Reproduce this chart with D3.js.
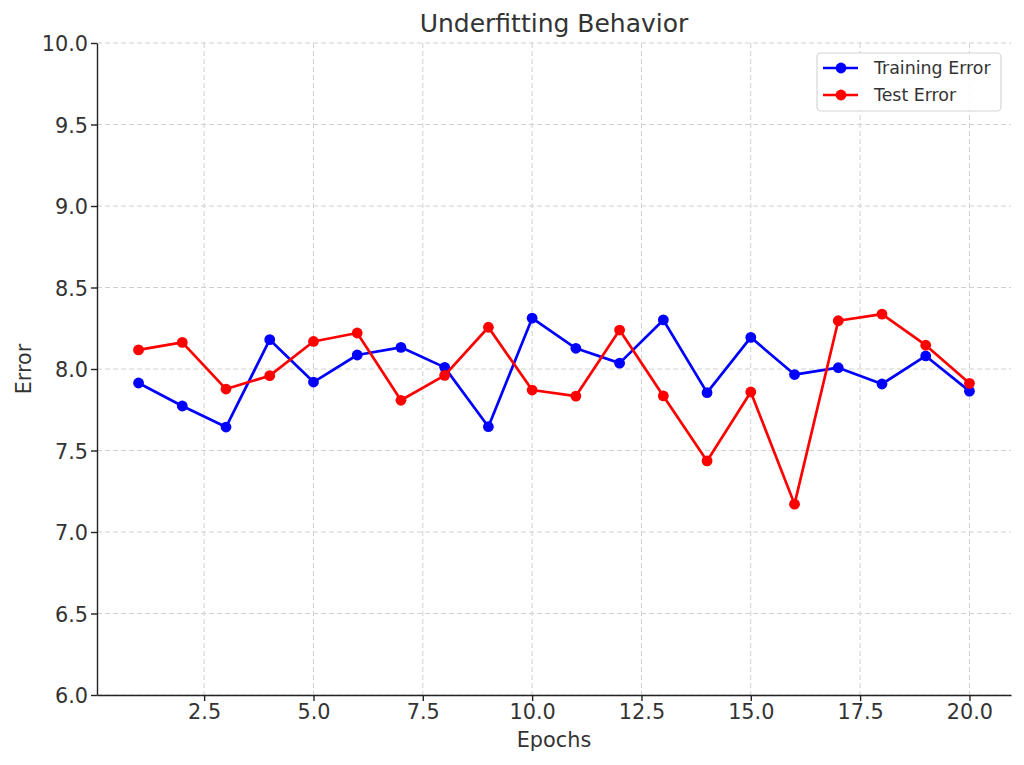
<!DOCTYPE html>
<html>
<head>
<meta charset="utf-8">
<script src="https://cdn.jsdelivr.net/npm/d3@7"></script>
<style>
    body { margin: 0; background: #fff; }
    svg text { font-family: "DejaVu Sans", sans-serif; fill: #333; }
    .grid line { stroke: #d0d0d0; stroke-dasharray: 5,3; stroke-width: 1; }
    .axis path, .axis line { stroke: #222; stroke-width: 1.4; }
</style>
</head>
<body>
<div id="chart"></div>
<script>
const epochs = [1, 2, 3, 4, 5, 6, 7, 8, 9, 10, 11, 12, 13, 14, 15, 16, 17, 18, 19, 20];
const trainingError = [7.914, 7.773, 7.644, 8.180, 7.920, 8.086, 8.133, 8.010, 7.646, 8.312,
    8.127, 8.036, 8.301, 7.855, 8.194, 7.966, 8.008, 7.908, 8.080, 7.864];
const testError = [8.117, 8.163, 7.877, 7.959, 8.169, 8.221, 7.808, 7.961, 8.256, 7.871,
    7.834, 8.239, 7.835, 7.436, 7.859, 7.171, 8.296, 8.337, 8.146, 7.912];
const xTicks = [2.5, 5.0, 7.5, 10.0, 12.5, 15.0, 17.5, 20.0];
const yTicks = [6.0, 6.5, 7.0, 7.5, 8.0, 8.5, 9.0, 9.5, 10.0];
const seriesNames = ['Training Error', 'Test Error'];
const seriesColors = ['#0000ff', '#ff0000'];

const width = 1024;
const height = 765;
const margin = { top: 43, right: 13, bottom: 70, left: 97 };

const svg = d3.select('#chart')
    .append('svg')
    .attr('width', width)
    .attr('height', height);

const xScale = d3.scaleLinear().domain([0.05, 20.95]).range([margin.left, width - margin.right]);
const yScale = d3.scaleLinear().domain([6, 10]).range([height - margin.bottom, margin.top]);

// grid
svg.append('g').attr('class', 'grid')
    .selectAll('line.v')
    .data(xTicks)
    .enter().append('line')
    .attr('x1', d => xScale(d)).attr('x2', d => xScale(d))
    .attr('y1', margin.top).attr('y2', height - margin.bottom);

svg.append('g').attr('class', 'grid')
    .selectAll('line.h')
    .data(yTicks)
    .enter().append('line')
    .attr('x1', margin.left).attr('x2', width - margin.right)
    .attr('y1', d => yScale(d)).attr('y2', d => yScale(d));

// axes
const xAxis = svg.append('g')
    .attr('class', 'axis')
    .attr('transform', `translate(0,${height - margin.bottom})`)
    .call(d3.axisBottom(xScale).tickValues(xTicks).tickFormat(d3.format('.1f')).tickSize(6).tickSizeOuter(0));
xAxis.selectAll('text').style('font-size', '20.8px');

const yAxis = svg.append('g')
    .attr('class', 'axis')
    .attr('transform', `translate(${margin.left},0)`)
    .call(d3.axisLeft(yScale).tickValues(yTicks).tickFormat(d3.format('.1f')).tickSize(6).tickSizeOuter(0));
yAxis.selectAll('text').style('font-size', '20.8px').attr('x', -9).attr('dy', '0.36em');

// labels
svg.append('text')
    .attr('x', (margin.left + width - margin.right) / 2)
    .attr('y', 32)
    .attr('text-anchor', 'middle')
    .style('font-size', '25px')
    .text('Underfitting Behavior');

svg.append('text')
    .attr('x', (margin.left + width - margin.right) / 2)
    .attr('y', 747)
    .attr('text-anchor', 'middle')
    .style('font-size', '20.8px')
    .text('Epochs');

svg.append('text')
    .attr('transform', `translate(31,${yScale(8)}) rotate(-90)`)
    .attr('text-anchor', 'middle')
    .style('font-size', '20.8px')
    .text('Error');

// lines
const line = d3.line()
    .x((d, i) => xScale(epochs[i]))
    .y(d => yScale(d));

[trainingError, testError].forEach((values, idx) => {
    svg.append('path')
        .datum(values)
        .attr('fill', 'none')
        .attr('stroke', seriesColors[idx])
        .attr('stroke-width', 2.7)
        .attr('stroke-linejoin', 'round')
        .attr('d', line);

    svg.selectAll('.dot' + idx)
        .data(values)
        .enter().append('circle')
        .attr('cx', (d, i) => xScale(epochs[i]))
        .attr('cy', d => yScale(d))
        .attr('r', 5.4)
        .attr('fill', seriesColors[idx]);
});

// legend
const legend = svg.append('g').attr('transform', 'translate(817,53)');
legend.append('rect')
    .attr('width', 184).attr('height', 58)
    .attr('rx', 4)
    .attr('fill', '#fff').attr('fill-opacity', 0.85)
    .attr('stroke', '#d6d6d6').attr('stroke-width', 1.2);

seriesNames.forEach((name, i) => {
    const yy = 15 + i * 27;
    legend.append('line')
        .attr('x1', 6).attr('x2', 41)
        .attr('y1', yy).attr('y2', yy)
        .attr('stroke', seriesColors[i]).attr('stroke-width', 2.7);
    legend.append('circle')
        .attr('cx', 24).attr('cy', yy).attr('r', 5.4)
        .attr('fill', seriesColors[i]);
    legend.append('text')
        .attr('x', 57).attr('y', yy)
        .attr('dy', '0.36em')
        .style('font-size', '17.4px')
        .text(name);
});
</script>
</body>
</html>
